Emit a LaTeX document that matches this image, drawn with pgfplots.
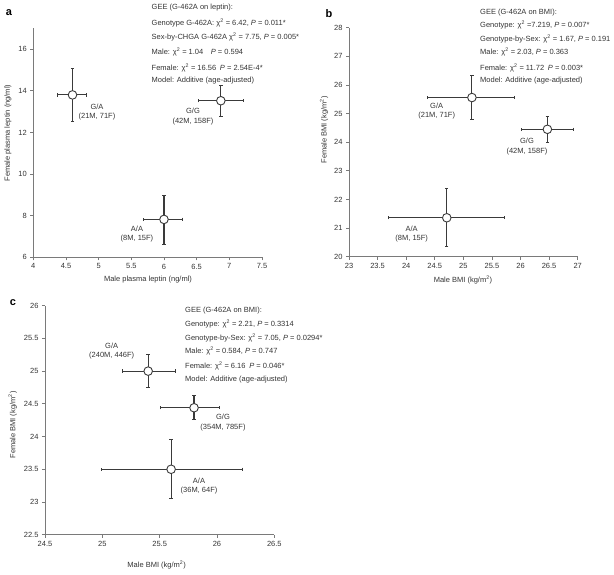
\documentclass[border=0pt]{standalone}
\usepackage{pgfplots}
\pgfplotsset{compat=1.18}
\usepackage{pgfplotstable}
\usepackage{fontspec}
\setmainfont{Liberation Sans}
\definecolor{txt}{HTML}{333333}
\definecolor{axc}{HTML}{7A7A7A}
\definecolor{barc}{HTML}{3A3A3A}

\pgfplotstableread{
x y xp xm yp ym
4.60 13.80 0.22 0.23 1.28 1.28
6.87 13.52 0.35 0.34 0.72 0.77
6.00 7.82 0.29 0.32 1.17 1.20
}\dataA
\pgfplotstableread{
x y xp xm yp ym
25.15 25.56 0.75 0.77 0.76 0.75
26.47 24.45 0.45 0.46 0.45 0.46
24.71 21.36 1.01 1.02 1.02 1.02
}\dataB
\pgfplotstableread{
x y xp xm yp ym
25.40 25.00 0.24 0.22 0.25 0.25
25.80 24.44 0.22 0.29 0.19 0.18
25.60 23.50 0.62 0.61 0.46 0.45
}\dataC

\pgfplotsset{
  panel/.style={
    scale only axis, anchor=south west, clip=false,
    axis x line*=bottom, axis y line*=left,
    axis line style={-, axc, line width=0.8pt},
    tick align=outside, major tick length=3pt,
    tick style={axc, line width=0.7pt},
    tick label style={font=\fontsize{7.5pt}{9pt}\selectfont, text=txt},
    /pgf/number format/assume math mode=true,
    /pgf/number format/1000 sep={},
  },
  ebars/.style={only marks, mark=none,
    error bars/.cd, x dir=both, x explicit, y dir=both, y explicit,
    error bar style={barc, line width=1.1pt},
    error mark options={rotate=90, barc, mark size=1.7pt, line width=1pt}},
  pts/.style={only marks, mark=*, mark size=4.3pt,
    mark options={fill=white, draw=barc, line width=0.9pt}},
}
\newcommand{\chisq}{χ\textsuperscript{2}}

\begin{document}
\begin{tikzpicture}[font=\fontsize{7.5pt}{9pt}\selectfont, text=txt]
\useasboundingbox (0,0) rectangle (614pt,575pt);

% ---------------- panel a
\begin{axis}[panel, at={(33.3pt,317.7pt)}, width=228.7pt, height=229pt,
  xmin=4, xmax=7.5, ymin=6, ymax=17,
  xtick={4,4.5,5,5.5,6,6.5,7,7.5}, ytick={6,8,10,12,14,16}]
\addplot[ebars] table[x=x,y=y,x error plus=xp,x error minus=xm,y error plus=yp,y error minus=ym]{\dataA};
\addplot[pts] table[x=x,y=y]{\dataA};
\end{axis}

% ---------------- panel b
\begin{axis}[panel, at={(349pt,318.3pt)}, width=228.7pt, height=229pt,
  xmin=23, xmax=27, ymin=20, ymax=28,
  xtick={23,23.5,24,24.5,25,25.5,26,26.5,27}, ytick={20,21,...,28}]
\addplot[ebars] table[x=x,y=y,x error plus=xp,x error minus=xm,y error plus=yp,y error minus=ym]{\dataB};
\addplot[pts] table[x=x,y=y]{\dataB};
\end{axis}

% ---------------- panel c
\begin{axis}[panel, at={(45pt,40.3pt)}, width=229.3pt, height=229pt,
  xmin=24.5, xmax=26.5, ymin=22.5, ymax=26,
  xtick={24.5,25,25.5,26,26.5}, ytick={22.5,23,23.5,24,24.5,25,25.5,26}]
\addplot[ebars] table[x=x,y=y,x error plus=xp,x error minus=xm,y error plus=yp,y error minus=ym]{\dataC};
\addplot[pts] table[x=x,y=y]{\dataC};
\end{axis}

% panel letters
\node[font=\fontsize{11pt}{13pt}\selectfont\bfseries, text=black] at (9pt,562pt) {a};
\node[font=\fontsize{11pt}{13pt}\selectfont\bfseries, text=black] at (329pt,561pt) {b};
\node[font=\fontsize{11pt}{13pt}\selectfont\bfseries, text=black] at (13pt,272pt) {c};

% axis labels
\node at (148pt,295pt) {Male plasma leptin (ng/ml)};
\node[rotate=90] at (8pt,442pt) {Female plasma leptin (ng/ml)};
\node at (463pt,295pt) {Male BMI (kg/m\textsuperscript{2})};
\node[rotate=90] at (324pt,445pt) {Female BMI (kg/m\textsuperscript{2})};
\node at (156.7pt,10pt) {Male BMI (kg/m\textsuperscript{2})};
\node[rotate=90] at (12.7pt,150pt) {Female BMI (kg/m\textsuperscript{2})};

% point labels
\begin{scope}[every node/.style={align=center, font=\fontsize{7.5pt}{9.5pt}\selectfont}]
\node at (97pt,463pt) {G/A\\(21M, 71F)};
\node at (193pt,458.5pt) {G/G\\(42M, 158F)};
\node at (137pt,341pt) {A/A\\(8M, 15F)};
\node at (436.7pt,464pt) {G/A\\(21M, 71F)};
\node at (527pt,428.5pt) {G/G\\(42M, 158F)};
\node at (411.7pt,341pt) {A/A\\(8M, 15F)};
\node at (111.7pt,223.7pt) {G/A\\(240M, 446F)};
\node at (223pt,152.5pt) {G/G\\(354M, 785F)};
\node at (199pt,88.7pt) {A/A\\(36M, 64F)};
\end{scope}

% annotations
\begin{scope}[every node/.style={anchor=base west, inner xsep=0pt, font=\fontsize{7.5pt}{9pt}\selectfont}]
\node at (151.5pt,565pt) {GEE (G-462A on leptin):};
\node at (151.5pt,549.6pt) {Genotype G-462A: \chisq{} = 6.42, \textit{P} = 0.011*};
\node at (151.5pt,535.6pt) {Sex-by-CHGA G-462A \chisq{} = 7.75, \textit{P} = 0.005*};
\node at (151.5pt,520pt) {Male: \chisq{} = 1.04\quad\textit{P} = 0.594};
\node at (151.5pt,504.6pt) {Female: \chisq{} = 16.56\enspace\textit{P} = 2.54E-4*};
\node at (151.5pt,492.3pt) {Model: Additive (age-adjusted)};

\node at (480pt,560.6pt) {GEE (G-462A on BMI):};
\node at (480pt,547.6pt) {Genotype: \chisq{} =7.219, \textit{P} = 0.007*};
\node at (480pt,533pt) {Genotype-by-Sex: \chisq{} = 1.67, \textit{P} = 0.191};
\node at (480pt,520pt) {Male: \chisq{} = 2.03, \textit{P} = 0.363};
\node at (480pt,504.6pt) {Female: \chisq{} = 11.72\enspace\textit{P} = 0.003*};
\node at (480pt,492.3pt) {Model: Additive (age-adjusted)};

\node at (185pt,262.3pt) {GEE (G-462A on BMI):};
\node at (185pt,248pt) {Genotype: \chisq{} = 2.21, \textit{P} = 0.3314};
\node at (185pt,234pt) {Genotype-by-Sex: \chisq{} = 7.05, \textit{P} = 0.0294*};
\node at (185pt,221.3pt) {Male: \chisq{} = 0.584, \textit{P} = 0.747};
\node at (185pt,206.6pt) {Female: \chisq{} = 6.16\enspace\textit{P} = 0.046*};
\node at (185pt,193.3pt) {Model: Additive (age-adjusted)};
\end{scope}
\end{tikzpicture}
\end{document}
